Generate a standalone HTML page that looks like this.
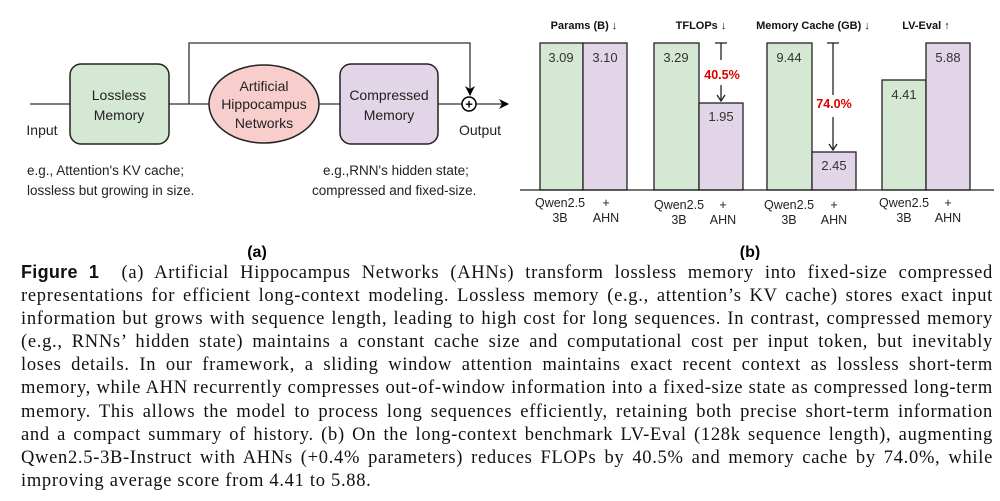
<!DOCTYPE html>
<html><head><meta charset="utf-8"><style>
html,body{margin:0;padding:0;background:#fff;}
body{width:1000px;height:501px;position:relative;overflow:hidden;}
svg{position:absolute;left:0;top:0;}
.cap{position:absolute;left:21px;top:261px;width:972px;font-family:"Liberation Serif",serif;font-size:18.5px;letter-spacing:0.7px;line-height:23.1px;color:#111;}
.cap div{text-align:justify;text-align-last:justify;white-space:nowrap;}
.cap div.l{text-align-last:left;}
.fig{font-family:"Liberation Sans",sans-serif;font-weight:bold;font-size:18px;letter-spacing:0.3px;}
</style></head><body>
<svg width="1000" height="260" viewBox="0 0 1000 260" font-family="Liberation Sans, sans-serif">
<defs><marker id="ah" markerWidth="10" markerHeight="10" refX="9" refY="5" orient="auto" markerUnits="userSpaceOnUse"><path d="M0,0 L10,5 L0,10 L3,5z" fill="#000"/></marker></defs>
<g stroke="#333" stroke-width="1.3" fill="none">
<line x1="30" y1="104" x2="70" y2="104"/>
<line x1="169" y1="104" x2="209" y2="104"/>
<line x1="319" y1="104" x2="340" y2="104"/>
<line x1="438" y1="104" x2="462" y2="104"/>
<polyline points="189,104 189,43 470,43 470,95" marker-end="url(#ah)"/>
<line x1="476" y1="104" x2="508" y2="104" marker-end="url(#ah)"/>
</g>
<rect x="70" y="64" width="99" height="80" rx="11" fill="#d5e8d4" stroke="#222" stroke-width="1.5"/>
<ellipse cx="264" cy="104" rx="55" ry="39" fill="#f8cecc" stroke="#222" stroke-width="1.5"/>
<rect x="340" y="64" width="98" height="80" rx="11" fill="#e1d5e7" stroke="#222" stroke-width="1.5"/>
<circle cx="469" cy="104" r="7" fill="#fff" stroke="#000" stroke-width="1.5"/>
<text x="469" y="108.5" font-size="13" text-anchor="middle" font-weight="bold">+</text>
<g font-size="14" fill="#222" text-anchor="middle">
<text x="119" y="100">Lossless</text><text x="119" y="120">Memory</text>
<text x="264" y="91">Artificial</text><text x="264" y="109">Hippocampus</text><text x="264" y="128">Networks</text>
<text x="389" y="100">Compressed</text><text x="389" y="120">Memory</text>
<text x="42" y="135">Input</text><text x="480" y="135">Output</text>
</g>
<g font-size="13.5" fill="#222">
<text x="27" y="175">e.g., Attention's KV cache;</text>
<text x="27" y="195">lossless but growing in size.</text>
<text x="323" y="175">e.g.,RNN's hidden state;</text>
<text x="312" y="195">compressed and fixed-size.</text>
</g>
<text x="257" y="257" font-size="16" font-weight="bold" text-anchor="middle">(a)</text>
<text x="750" y="257" font-size="16" font-weight="bold" text-anchor="middle">(b)</text>
<g font-size="11" font-weight="bold" text-anchor="middle" fill="#111">
<text x="584" y="29">Params (B) ↓</text>
<text x="701" y="29">TFLOPs ↓</text>
<text x="813" y="29">Memory Cache (GB) ↓</text>
<text x="926" y="29">LV-Eval ↑</text>
</g>
<g stroke="#222" stroke-width="1.3">
<rect x="540" y="43" width="43" height="147" fill="#d5e8d4"/>
<rect x="583" y="43" width="44" height="147" fill="#e1d5e7"/>
<rect x="654" y="43" width="45" height="147" fill="#d5e8d4"/>
<rect x="699" y="103" width="44" height="87" fill="#e1d5e7"/>
<rect x="767" y="43" width="45" height="147" fill="#d5e8d4"/>
<rect x="812" y="152" width="44" height="38" fill="#e1d5e7"/>
<rect x="882" y="80" width="44" height="110" fill="#d5e8d4"/>
<rect x="926" y="43" width="44" height="147" fill="#e1d5e7"/>
<line x1="520" y1="190" x2="994" y2="190"/>
<line x1="715" y1="43" x2="727" y2="43"/>
<line x1="721" y1="43" x2="721" y2="60"/>
<line x1="721" y1="85" x2="721" y2="101"/>
<line x1="827" y1="43" x2="839" y2="43"/>
<line x1="833" y1="43" x2="833" y2="95"/>
<line x1="833" y1="117" x2="833" y2="150"/>
</g>
<path d="M829,144 L833,150 L837,144" fill="none" stroke="#222" stroke-width="1.3"/>
<path d="M717,95 L721,101 L725,95" fill="none" stroke="#222" stroke-width="1.3"/>
<g font-size="13" fill="#333" text-anchor="middle">
<text x="561" y="62">3.09</text><text x="605" y="62">3.10</text>
<text x="676" y="62">3.29</text><text x="721" y="121">1.95</text>
<text x="789" y="62">9.44</text><text x="834" y="170">2.45</text>
<text x="904" y="99">4.41</text><text x="948" y="62">5.88</text>
</g>
<g font-size="12.5" font-weight="bold" fill="#d00" text-anchor="middle">
<text x="722" y="79">40.5%</text><text x="834" y="108">74.0%</text>
</g>
<g font-size="12.5" fill="#222" text-anchor="middle">
<text x="560" y="207">Qwen2.5</text><text x="560" y="222">3B</text>
<text x="606" y="207">+</text><text x="606" y="222">AHN</text>
<text x="679" y="209">Qwen2.5</text><text x="679" y="224">3B</text>
<text x="723" y="209">+</text><text x="723" y="224">AHN</text>
<text x="789" y="209">Qwen2.5</text><text x="789" y="224">3B</text>
<text x="834" y="209">+</text><text x="834" y="224">AHN</text>
<text x="904" y="207">Qwen2.5</text><text x="904" y="222">3B</text>
<text x="948" y="207">+</text><text x="948" y="222">AHN</text>
</g>
</svg>
<div class="cap">
<div><span class="fig">Figure 1</span>&nbsp; (a) Artificial Hippocampus Networks (AHNs) transform lossless memory into fixed-size compressed</div>
<div>representations for efficient long-context modeling. Lossless memory (e.g., attention’s KV cache) stores exact input</div>
<div>information but grows with sequence length, leading to high cost for long sequences. In contrast, compressed memory</div>
<div>(e.g., RNNs’ hidden state) maintains a constant cache size and computational cost per input token, but inevitably</div>
<div>loses details. In our framework, a sliding window attention maintains exact recent context as lossless short-term</div>
<div>memory, while AHN recurrently compresses out-of-window information into a fixed-size state as compressed long-term</div>
<div>memory. This allows the model to process long sequences efficiently, retaining both precise short-term information</div>
<div>and a compact summary of history. (b) On the long-context benchmark LV-Eval (128k sequence length), augmenting</div>
<div>Qwen2.5-3B-Instruct with AHNs (+0.4% parameters) reduces FLOPs by 40.5% and memory cache by 74.0%, while</div>
<div class="l">improving average score from 4.41 to 5.88.</div>
</div>
</body></html>
